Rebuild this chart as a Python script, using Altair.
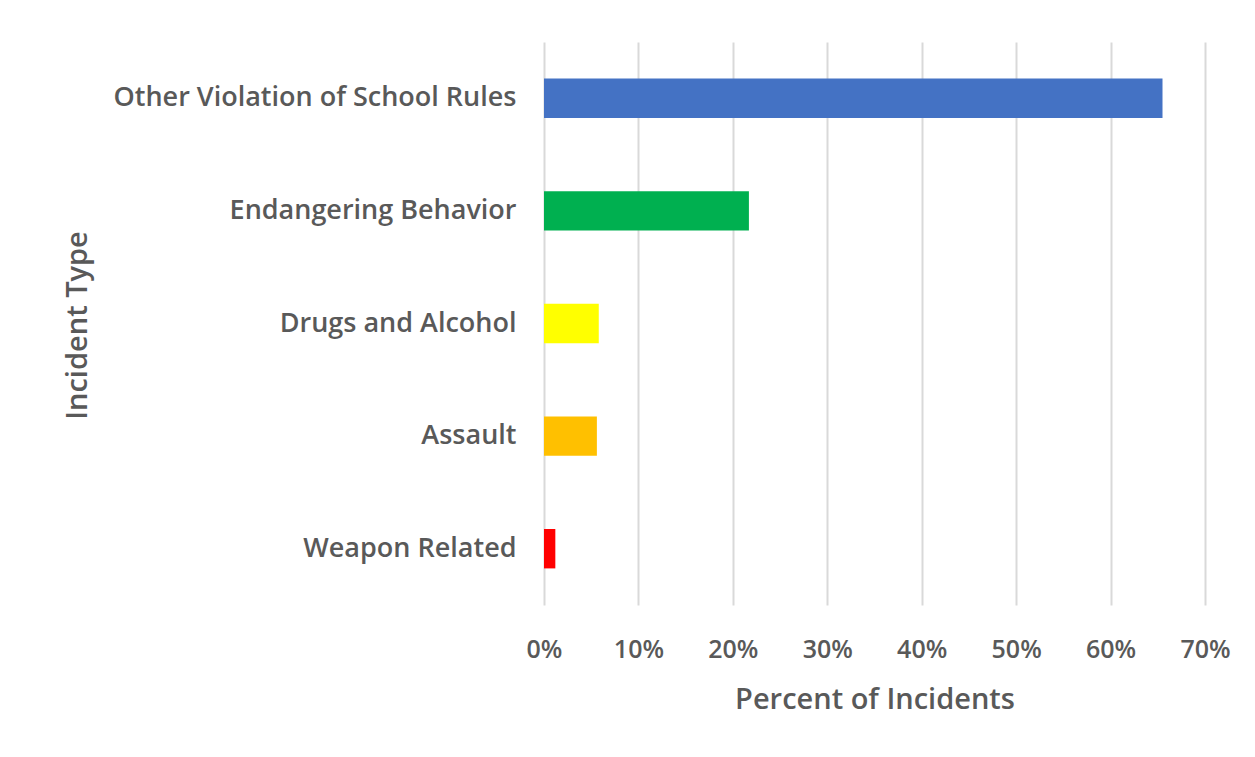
import altair as alt
import pandas as pd

categories = ["Other Violation of School Rules", "Endangering Behavior", "Drugs and Alcohol", "Assault", "Weapon Related"]
percents = [0.655, 0.217, 0.058, 0.056, 0.012]
colors = ["#4472C4", "#00B050", "#FFFF00", "#FFC000", "#FF0000"]
tick_values = [0, 0.1, 0.2, 0.3, 0.4, 0.5, 0.6, 0.7]

df = pd.DataFrame({"Incident Type": categories, "Percent": percents, "Color": colors})

FONT = "Open Sans"
TXT = "#595959"
W = 600

chart = alt.Chart(df).mark_bar().encode(
    y=alt.Y("Incident Type:N", sort=categories,
            scale=alt.Scale(paddingInner=0.65, paddingOuter=0.325),
            axis=alt.Axis(title="Incident Type", ticks=False, domain=False, labelPadding=28,
                          labelFontSize=27, labelFont=FONT, labelFontWeight=W, labelColor=TXT,
                          titleFontSize=29, titleFont=FONT, titleFontWeight=W, titleColor=TXT,
                          titleAngle=-90, titleX=-467, titleY=283, titleAlign="center",
                          titleBaseline="middle", labelLimit=600)),
    x=alt.X("Percent:Q", scale=alt.Scale(domain=[0, 0.7], nice=False),
            axis=alt.Axis(title="Percent of Incidents", format=".0%", values=tick_values,
                          ticks=False, domain=False, grid=True, gridColor="#D9D9D9", gridWidth=2,
                          labelFlush=False, labelBaseline="alphabetic", labelPadding=52,
                          labelFontSize=25, labelFont=FONT, labelFontWeight=W, labelColor=TXT,
                          titleFontSize=29, titleFont=FONT, titleFontWeight=W, titleColor=TXT,
                          titleBaseline="alphabetic", titleY=103)),
    color=alt.Color("Color:N", scale=None, legend=None),
).properties(
    width=661, height=563,
    autosize=alt.AutoSizeParams(type="none"),
    padding={"left": 536, "top": 34, "right": 40, "bottom": 120},
).configure(background="white").configure_view(stroke=None)

chart.save("out.html", embed_options={"renderer": "svg", "actions": False})
